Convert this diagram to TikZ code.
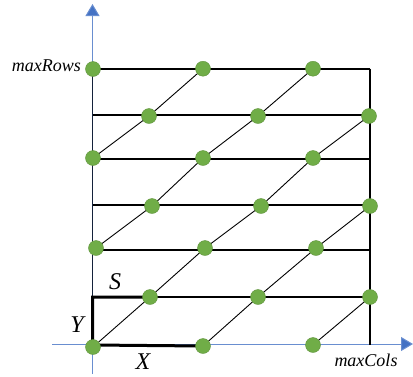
\documentclass[tikz,border=0pt]{standalone}
\usepackage{fontspec}
\setmainfont{Liberation Serif}
\usetikzlibrary{arrows.meta}
\definecolor{axisblue}{HTML}{4472C4}
\definecolor{dotgreen}{HTML}{70AD47}

\begin{document}
\begin{tikzpicture}[x=1pt, y=-1pt,
  axis/.style={axisblue!80, line width=1pt, -{Triangle[length=12pt, width=14pt, fill=axisblue]}},
  rowline/.style={black, line width=2pt},
  diag/.style={black, line width=0.9pt},
  bold/.style={black, line width=3pt},
  dot/.style={circle, fill=dotgreen, draw=dotgreen!85!black, line width=0.4pt, inner sep=0pt, minimum size=15pt},
  lbl/.style={font=\fontsize{18}{20}\selectfont\itshape, inner sep=0pt},
  big/.style={font=\fontsize{24}{26}\selectfont\itshape, inner sep=0pt},
]
\useasboundingbox (0,0) rectangle (413,376);
% row ends
\foreach \i/\y in {0/345,1/297,2/250,3/204.5,4/159,5/115,6/68.7}{
  \coordinate (l\i) at (92.5,\y);
  \coordinate (r\i) at (370,\y);
}
% lattice points
\coordinate (p00) at (93,347);  \coordinate (p02) at (203,346); \coordinate (p04) at (313,345);
\coordinate (p11) at (150,297); \coordinate (p13) at (258,297); \coordinate (p15) at (370,297);
\coordinate (p20) at (96,248);  \coordinate (p22) at (205,248); \coordinate (p24) at (316,248);
\coordinate (p31) at (152,206); \coordinate (p33) at (261,206); \coordinate (p35) at (370,206);
\coordinate (p40) at (93,158);  \coordinate (p42) at (203,158); \coordinate (p44) at (313,158);
\coordinate (p51) at (149,116); \coordinate (p53) at (258,116); \coordinate (p55) at (369,116);
\coordinate (p60) at (93,69);   \coordinate (p62) at (203,68.7); \coordinate (p64) at (313,68.7);
% axes
\coordinate (ybot) at (92.5,374);
\coordinate (ytop) at (92.5,4);
\coordinate (xleft) at (52,344);
\coordinate (xright) at (413,344);
\draw[axis] (ybot) -- (ytop);
\draw[axis] (xleft) -- (xright);
% grid
\foreach \i in {1,...,6}{
  \draw[rowline] (l\i) -- (r\i);
}
\draw[rowline] (r6) -- (r0);
\draw[black!70!axisblue, line width=1.3pt] (l6) -- (l0);
\draw[diag] (p00) -- (p11) -- (p22) -- (p33) -- (p44) -- (p55);
\draw[diag] (p02) -- (p13) -- (p24) -- (p35);
\draw[diag] (p04) -- (p15);
\draw[diag] (p20) -- (p31) -- (p42) -- (p53) -- (p64);
\draw[diag] (p40) -- (p51) -- (p62);
% X, Y, S
\draw[bold] (p02) -- (l0) -- (l1) -- (p11);
% dots
\foreach \n in {00,02,04,11,13,15,20,22,24,31,33,35,40,42,44,51,53,55,60,62,64}{
  \node[dot] (d\n) at (p\n) {};
}
% labels
\node[lbl, anchor=east] (rowslbl) at (81,66) {maxRows};
\node[lbl] (colslbl) at (366,360) {maxCols};
\node[big] (slbl) at (115,282) {S};
\node[big] (ylbl) at (77,325) {Y};
\node[big] (xlbl) at (143,362) {X};
\end{tikzpicture}
\end{document}
